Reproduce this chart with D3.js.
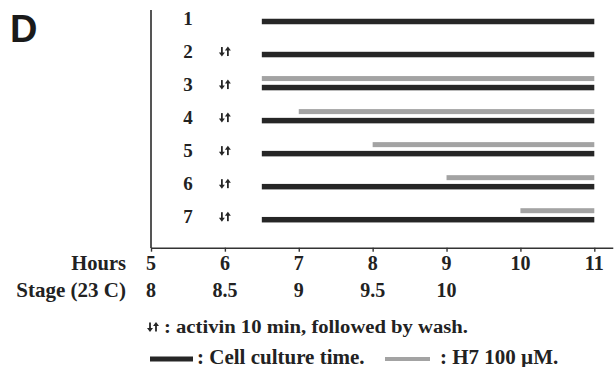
<!DOCTYPE html>
<html>
<head>
<meta charset="utf-8">
<script src="https://cdn.jsdelivr.net/npm/d3@7"></script>
<style>
	body { margin: 0; background: #fff; }
	text { font-family: "Liberation Serif", "Times New Roman", serif; font-weight: bold; fill: #222; }
</style>
</head>
<body>
<script>
'use strict';

// Experiment rows (treatment schedules)
const rowIds = [1, 2, 3, 4, 5, 6, 7];
const activin = [false, true, true, true, true, true, true];
const cultureStart = [6.5, 6.5, 6.5, 6.5, 6.5, 6.5, 6.5];
const cultureEnd = [11, 11, 11, 11, 11, 11, 11];
const h7Start = [null, null, 6.5, 7, 8, 9, 10];
const h7End = [null, null, 11, 11, 11, 11, 11];

// Axis labels
const hourTicks = [5, 6, 7, 8, 9, 10, 11];
const stageHours = [5, 6, 7, 8, 9];
const stageLabels = ["8", "8.5", "9", "9.5", "10"];

const W = 614, H = 367;
const BLACK = "#262626", GREY = "#a3a3a3";

const svg = d3.select("body").append("svg")
	.attr("width", W)
	.attr("height", H);

const x = d3.scaleLinear().domain([5, 11]).range([151, 594.3]);
const y = d3.scalePoint().domain(rowIds).range([21.5, 219.7]);

// panel letter
svg.append("text")
	.attr("x", 10)
	.attr("y", 41.5)
	.style("font-family", "'Liberation Sans', Arial, sans-serif")
	.style("font-size", "38px")
	.style("fill", "#1a1a1a")
	.text("D");

// little "down-up" arrows marking the activin pulse
const drawArrows = (g, cx, cy) => {
	const a = g.append("g").attr("transform", `translate(${cx}, ${cy})`);
	// down arrow (left)
	a.append("line").attr("x1", -3).attr("x2", -3).attr("y1", -4.5).attr("y2", 2)
		.attr("stroke", BLACK).attr("stroke-width", 1.8);
	a.append("path").attr("d", "M-6,1 L0,1 L-3,5 Z").attr("fill", BLACK);
	// up arrow (right)
	a.append("line").attr("x1", 3).attr("x2", 3).attr("y1", -2).attr("y2", 4.5)
		.attr("stroke", BLACK).attr("stroke-width", 1.8);
	a.append("path").attr("d", "M0,-1 L6,-1 L3,-5 Z").attr("fill", BLACK);
}

// axes
svg.append("line")
	.attr("x1", x(5)).attr("x2", x(5))
	.attr("y1", 10).attr("y2", 248)
	.attr("stroke", "#555")
	.attr("stroke-width", 2);

const xAxis = svg.append("g")
	.attr("transform", "translate(0, 247.7)")
	.call(d3.axisBottom(d3.scaleLinear().domain([5, 11.25]).range([x(5), x(11.25)]))
		.tickValues(hourTicks)
		.tickSize(4)
		.tickSizeOuter(0)
		.tickFormat(""));
xAxis.select(".domain").attr("stroke", "#333").attr("stroke-width", 1.6);
xAxis.selectAll(".tick line").attr("stroke", "#333").attr("stroke-width", 1.4);

// tick label rows
svg.append("text")
	.attr("x", 126)
	.attr("y", 270)
	.attr("text-anchor", "end")
	.style("font-size", "20.5px")
	.text("Hours");
svg.selectAll(".hour-lbl")
	.data(hourTicks)
	.join("text")
	.attr("class", "hour-lbl")
	.attr("x", d => x(d))
	.attr("y", 270)
	.attr("text-anchor", "middle")
	.style("font-size", "20px")
	.text(d => d);

svg.append("text")
	.attr("x", 126)
	.attr("y", 297)
	.attr("text-anchor", "end")
	.style("font-size", "21px")
	.text("Stage (23 C)");
svg.selectAll(".stage-lbl")
	.data(stageHours)
	.join("text")
	.attr("class", "stage-lbl")
	.attr("x", d => x(d))
	.attr("y", 297)
	.attr("text-anchor", "middle")
	.style("font-size", "20px")
	.text((d, i) => stageLabels[i]);

// rows
const rows = rowIds.map((id, i) => ({
	id: id,
	activin: activin[i],
	c0: cultureStart[i], c1: cultureEnd[i],
	h0: h7Start[i], h1: h7End[i]
}));

svg.selectAll(".row-lbl")
	.data(rows)
	.join("text")
	.attr("class", "row-lbl")
	.attr("x", x(5.5))
	.attr("y", d => y(d.id) + 3.5)
	.attr("text-anchor", "middle")
	.style("font-size", "19px")
	.text(d => d.id);

rows.filter(d => d.activin).forEach(d => drawArrows(svg, x(6), y(d.id) - 3));

svg.selectAll(".h7")
	.data(rows.filter(d => d.h0 !== null))
	.join("rect")
	.attr("class", "h7")
	.attr("x", d => x(d.h0))
	.attr("width", d => x(d.h1) - x(d.h0))
	.attr("y", d => y(d.id) - 9 - 2.5)
	.attr("height", 5)
	.attr("fill", GREY);

svg.selectAll(".culture")
	.data(rows)
	.join("rect")
	.attr("class", "culture")
	.attr("x", d => x(d.c0))
	.attr("width", d => x(d.c1) - x(d.c0))
	.attr("y", d => y(d.id) - 2.75)
	.attr("height", 5.5)
	.attr("fill", BLACK);

// legend
drawArrows(svg, 153, 327);
svg.append("text")
	.attr("x", 164)
	.attr("y", 332.5)
	.style("font-size", "18.5px")
	.attr("textLength", 304)
	.attr("lengthAdjust", "spacingAndGlyphs")
	.text(": activin 10 min, followed by wash.");

svg.append("rect")
	.attr("x", 150).attr("y", 356.5)
	.attr("width", 43).attr("height", 5)
	.attr("fill", BLACK);
svg.append("text")
	.attr("x", 197)
	.attr("y", 363.5)
	.style("font-size", "21px")
	.text(": Cell culture time.");

svg.append("rect")
	.attr("x", 385).attr("y", 357)
	.attr("width", 45).attr("height", 4)
	.attr("fill", GREY);
svg.append("text")
	.attr("x", 440)
	.attr("y", 363.5)
	.style("font-size", "21px")
	.text(": H7 100 \u00b5M.");
</script>
</body>
</html>
